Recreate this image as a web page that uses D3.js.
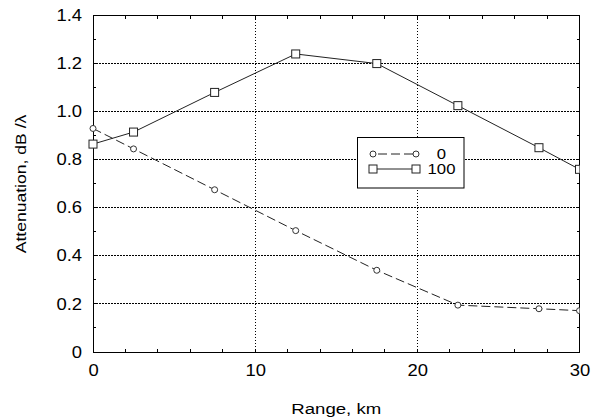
<!DOCTYPE html>
<html><head><meta charset="utf-8">
<script src="https://cdn.jsdelivr.net/npm/d3@7"></script>
<style>body{margin:0;background:#fff}text{font-family:"Liberation Sans",Arial,sans-serif;fill:#000}</style>
</head><body>
<svg id="c" width="596" height="418"></svg>
<script>
const ranges = [0, 2.5, 7.5, 12.5, 17.5, 22.5, 27.5, 30];
const series0 = [0.93, 0.845, 0.675, 0.505, 0.34, 0.195, 0.18, 0.172];
const series100 = [0.865, 0.915, 1.08, 1.24, 1.2, 1.025, 0.85, 0.76];
const seriesNames = ["0", "100"];
const xTicks = [0, 10, 20, 30];
const yTicks = [0, 0.2, 0.4, 0.6, 0.8, 1.0, 1.2, 1.4];
const yTickLabels = ["0", "0.2", "0.4", "0.6", "0.8", "1.0", "1.2", "1.4"];

const svg = d3.select("#c");
const m = {l: 93, t: 15.5, r: 16.5, b: 66};
const W = 596 - m.l - m.r, H = 418 - m.t - m.b;
const x = d3.scaleLinear().domain([0, 30]).range([0, W]);
const y = d3.scaleLinear().domain([0, 1.4]).range([H, 0]);
const g = svg.append("g").attr("transform", `translate(${m.l},${m.t})`);

function stretch(sel, f) {
  sel.each(function() {
    const L = this.getComputedTextLength();
    d3.select(this).attr("textLength", L * f).attr("lengthAdjust", "spacingAndGlyphs");
  });
}

// gridlines
g.append("g").selectAll("line").data(yTicks.filter(v => v > 0 && v < 1.4)).join("line")
  .attr("x1", 0).attr("x2", W).attr("y1", d => y(d)).attr("y2", d => y(d))
  .attr("stroke", "#000").attr("stroke-width", 1).attr("stroke-dasharray", "1.5,1.5").attr("shape-rendering", "crispEdges");
g.append("g").selectAll("line").data(xTicks.filter(v => v > 0 && v < 30)).join("line")
  .attr("y1", 0).attr("y2", H).attr("x1", d => x(d)).attr("x2", d => x(d))
  .attr("stroke", "#000").attr("stroke-width", 1).attr("stroke-dasharray", "1.5,1.5").attr("shape-rendering", "crispEdges");

// minor inward ticks
const xMinor = d3.range(0, 31, 2), yMinor = d3.range(0, 15).map(i => i / 10);
const tk = g.append("g").attr("stroke", "#000").attr("shape-rendering", "crispEdges");
xMinor.forEach(v => {
  tk.append("line").attr("x1", x(v)).attr("x2", x(v)).attr("y1", H).attr("y2", H - 3);
  tk.append("line").attr("x1", x(v)).attr("x2", x(v)).attr("y1", 0).attr("y2", 3);
});
yMinor.forEach(v => {
  tk.append("line").attr("y1", y(v)).attr("y2", y(v)).attr("x1", 0).attr("x2", 3);
  tk.append("line").attr("y1", y(v)).attr("y2", y(v)).attr("x1", W).attr("x2", W - 3);
});

// frame
g.append("rect").attr("x", 0).attr("y", 0).attr("width", W).attr("height", H)
  .attr("fill", "none").attr("stroke", "#000").attr("stroke-width", 1).attr("shape-rendering", "crispEdges");

// axes labels (via d3 axes, tick lines hidden)
const ax = g.append("g").attr("transform", `translate(0,${H})`)
  .call(d3.axisBottom(x).tickValues(xTicks).tickSize(0).tickPadding(13).tickFormat(d3.format("d")));
ax.select(".domain").remove();
ax.selectAll("text").attr("font-size", 16).attr("font-family", "Liberation Sans").call(stretch, 1.15);
const ay = g.append("g")
  .call(d3.axisLeft(y).tickValues(yTicks).tickSize(0).tickPadding(11).tickFormat((d, i) => yTickLabels[i]));
ay.select(".domain").remove();
ay.selectAll("text").attr("font-size", 16).attr("font-family", "Liberation Sans").call(stretch, 1.15);

// titles
svg.append("text").attr("x", m.l + W / 2).attr("y", 414).attr("text-anchor", "middle")
  .attr("font-size", 15.5).text("Range, km").call(stretch, 1.2);
svg.append("text").attr("transform", "translate(26,184) rotate(-90)").attr("text-anchor", "middle")
  .attr("font-size", 15).text("Attenuation, dB /λ").call(stretch, 1.17);

// clip
svg.append("clipPath").attr("id", "clip").append("rect")
  .attr("x", -10).attr("y", -10).attr("width", W + 10).attr("height", H + 20);
const p = g.append("g").attr("clip-path", "url(#clip)");

const pts0 = ranges.map((r, i) => [r, series0[i]]);
const pts100 = ranges.map((r, i) => [r, series100[i]]);
const line = d3.line().x(d => x(d[0])).y(d => y(d[1]));

p.append("path").datum(pts0).attr("d", line).attr("fill", "none")
  .attr("stroke", "#222").attr("stroke-width", 1).attr("stroke-dasharray", "9,4");
p.append("path").datum(pts100).attr("d", line).attr("fill", "none")
  .attr("stroke", "#222").attr("stroke-width", 1);

p.selectAll(".c0").data(pts0).join("circle").attr("class", "c0")
  .attr("cx", d => x(d[0])).attr("cy", d => y(d[1])).attr("r", 3)
  .attr("fill", "#fff").attr("stroke", "#333").attr("stroke-width", 1);
p.selectAll(".s100").data(pts100).join("rect").attr("class", "s100")
  .attr("x", d => x(d[0]) - 4).attr("y", d => y(d[1]) - 4).attr("width", 8).attr("height", 8)
  .attr("fill", "#fff").attr("stroke", "#222").attr("stroke-width", 1);

// legend
const lg = svg.append("g");
lg.append("rect").attr("x", 357.5).attr("y", 137.5).attr("width", 106.5).attr("height", 50.5)
  .attr("fill", "#fff").attr("stroke", "#000").attr("stroke-width", 1);
const ly = [154, 169];
const lx1 = 373, lx2 = 416;
lg.append("line").attr("x1", lx1).attr("x2", lx2).attr("y1", ly[0]).attr("y2", ly[0])
  .attr("stroke", "#222").attr("stroke-dasharray", "9,4").attr("stroke-dashoffset", -5);
lg.append("line").attr("x1", lx1).attr("x2", lx2).attr("y1", ly[1]).attr("y2", ly[1]).attr("stroke", "#222");
[lx1, lx2].forEach(cx => {
  lg.append("circle").attr("cx", cx).attr("cy", ly[0]).attr("r", 3).attr("fill", "#fff").attr("stroke", "#333");
  lg.append("rect").attr("x", cx - 4).attr("y", ly[1] - 4).attr("width", 8).attr("height", 8).attr("fill", "#fff").attr("stroke", "#222");
});
seriesNames.forEach((n, i) => {
  lg.append("text").attr("x", 441.5).attr("y", ly[i] + 5).attr("text-anchor", "middle")
    .attr("font-size", 14.5).text(n).call(stretch, 1.15);
});
</script>
</body></html>
